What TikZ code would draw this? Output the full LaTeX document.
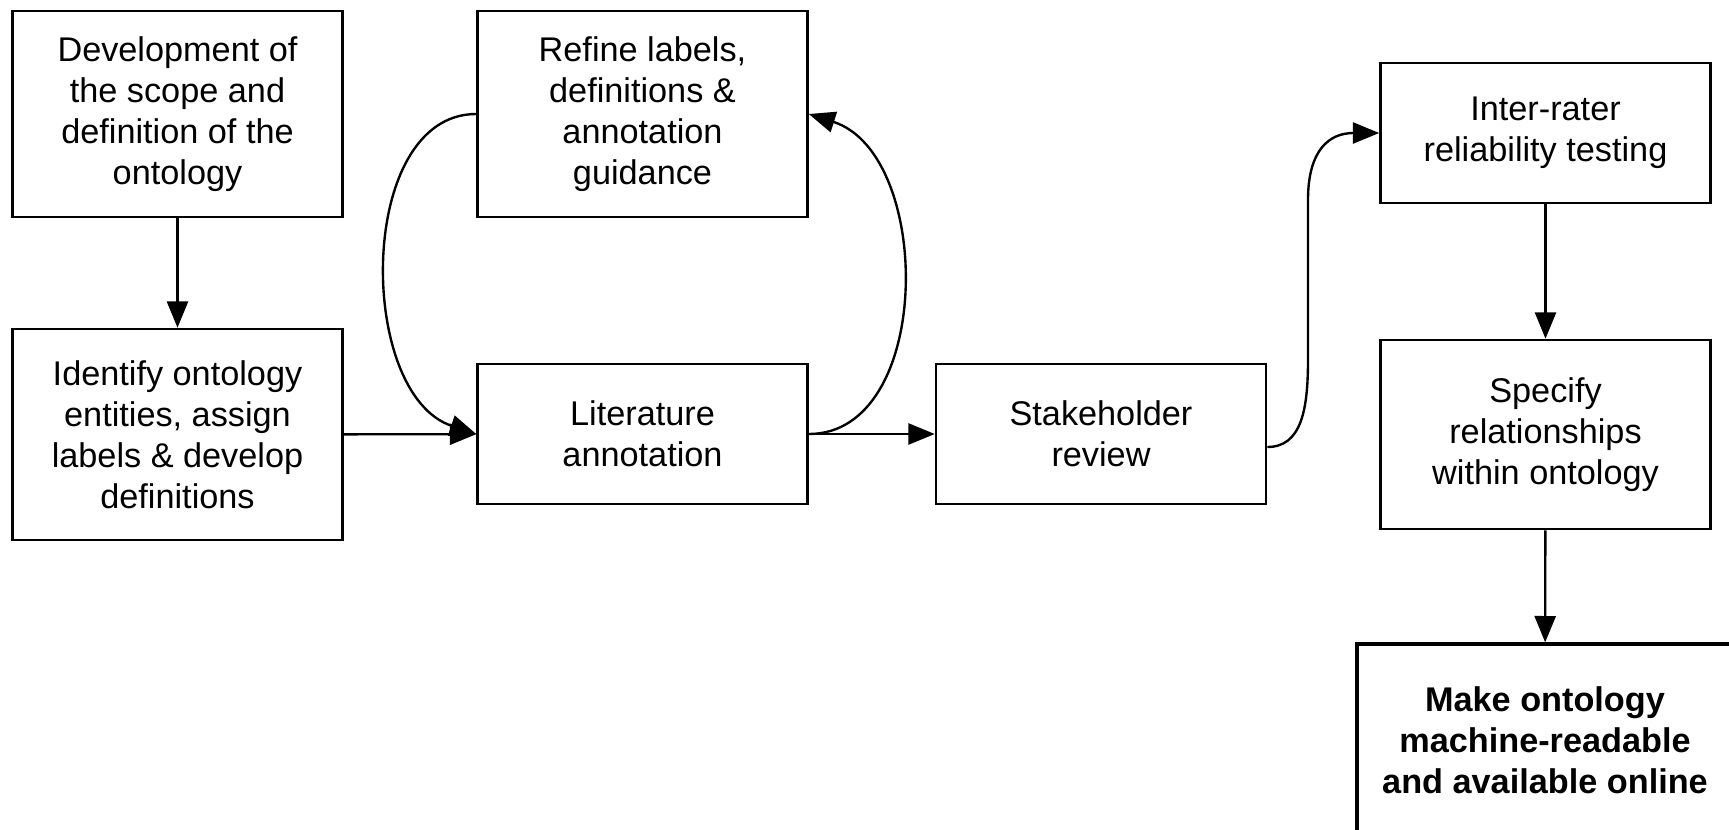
\documentclass[tikz,border=0pt]{standalone}
\usepackage{fontspec}
\setmainfont{Liberation Sans}
\usetikzlibrary{arrows.meta, positioning}
\usetikzlibrary{calc}

\tikzset{
	stepbox/.style={draw, line width=1.5pt, minimum width=6.6cm, inner sep=0pt, align=center, font=\fontsize{19.5}{23.3}\selectfont},
	link/.style={-{Triangle[length=15pt,width=12pt]}, line width=1.35pt}
}

\begin{document}
\begin{tikzpicture}[x=0.02cm, y=-0.02cm]
		\useasboundingbox (0,0) rectangle (1729,829);
		\draw (177.5,114) node[stepbox, minimum height=4.12cm] (dev) {Development of\\the scope and\\definition of the\\ontology}
		(177.5,434.5) node[stepbox, minimum height=4.22cm] (ident) {Identify ontology\\entities, assign\\labels \& develop\\definitions}
		(642.5,114) node[stepbox, minimum height=4.12cm] (refine) {Refine labels,\\definitions \&\\annotation\\guidance}
		(642.5,434) node[stepbox, minimum height=2.8cm] (lit) {Literature\\annotation}
		(1101,434) node[stepbox, minimum height=2.8cm] (stake) {Stakeholder\\review}
		(1545.5,133) node[stepbox, minimum height=2.8cm] (irr) {Inter-rater\\reliability testing}
		(1545.5,434.5) node[stepbox, minimum height=3.78cm] (spec) {Specify\\relationships\\within ontology}
		(1545,740) node[stepbox, minimum width=7.52cm, minimum height=3.84cm, line width=1.9pt, font=\fontsize{19.5}{23.3}\selectfont\bfseries] (make) {Make ontology\\machine-readable\\and available online};
		
		% bends of the review connector
		\coordinate (up1) at (1308,360);
		\coordinate (up2) at (1308,200);
		
		\draw[link] (dev) -- (ident);
		\draw[link] (ident) -- (lit);
		\draw[link] (lit) -- (stake);
		\draw[link] (refine.west) .. controls +(-120,0) and +(-120,-40) .. (lit.west);
		\draw[link] (lit.east) .. controls +(125,0) and +(125,40) .. (refine.east);
		\draw[link] ([yshift=-0.26cm]stake.east) .. controls +(34,0) and +(0,50) .. (up1) -- (up2) .. controls +(0,-50) and +(-50,0) .. (irr.west);
		\draw[link] (irr) -- (spec);
		\draw[link] (spec) -- (make);
	\end{tikzpicture}
\end{document}
